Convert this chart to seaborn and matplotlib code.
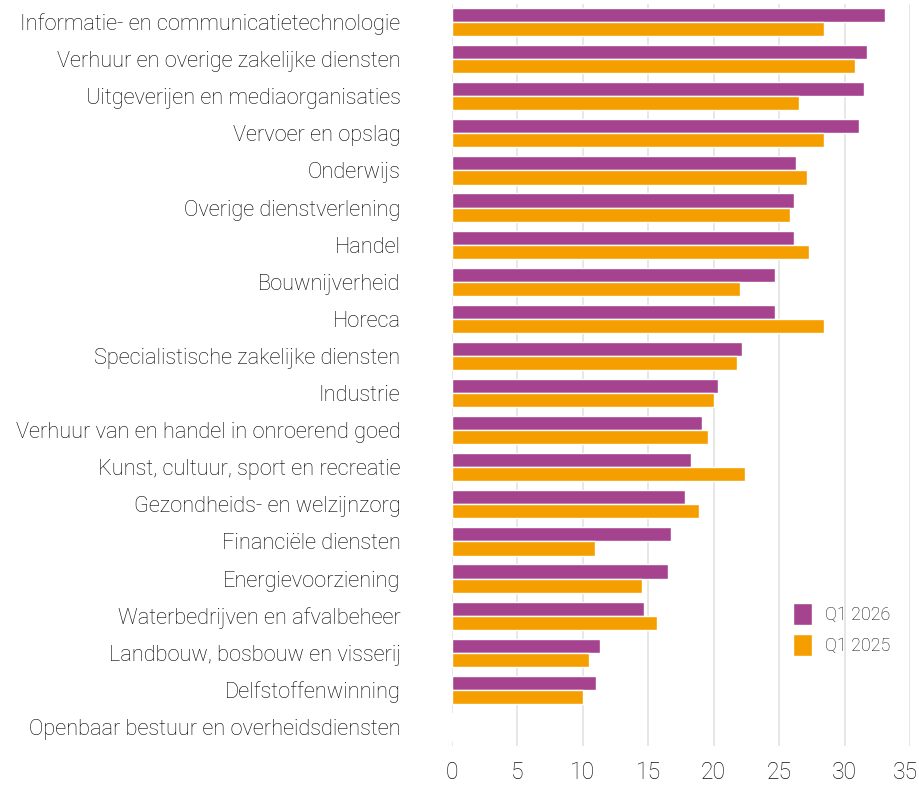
import pandas as pd
import matplotlib.pyplot as plt
import matplotlib.transforms as mtransforms
import seaborn as sns

# Sectors, top to bottom
sectors = [
    'Informatie- en communicatietechnologie',
    'Verhuur en overige zakelijke diensten',
    'Uitgeverijen en mediaorganisaties',
    'Vervoer en opslag',
    'Onderwijs',
    'Overige dienstverlening',
    'Handel',
    'Bouwnijverheid',
    'Horeca',
    'Specialistische zakelijke diensten',
    'Industrie',
    'Verhuur van en handel in onroerend goed',
    'Kunst, cultuur, sport en recreatie',
    'Gezondheids- en welzijnzorg',
    'Financiële diensten',
    'Energievoorziening',
    'Waterbedrijven en afvalbeheer',
    'Landbouw, bosbouw en visserij',
    'Delfstoffenwinning',
    'Openbaar bestuur en overheidsdiensten',
]
q1_2026 = [33.1, 31.7, 31.5, 31.1, 26.3, 26.1, 26.1, 24.7, 24.7, 22.2,
           20.3, 19.1, 18.3, 17.8, 16.7, 16.5, 14.7, 11.3, 11.0, 0.05]
q1_2025 = [28.4, 30.8, 26.5, 28.4, 27.1, 25.8, 27.3, 22.0, 28.4, 21.8,
           20.0, 19.6, 22.4, 18.9, 10.9, 14.5, 15.7, 10.5, 10.0, 0.05]
periods = ['Q1 2026', 'Q1 2025']
colors = ['#A6438F', '#F59E00']

df = pd.concat([
    pd.DataFrame({'sector': sectors, 'value': q1_2026, 'period': periods[0]}),
    pd.DataFrame({'sector': sectors, 'value': q1_2025, 'period': periods[1]}),
], ignore_index=True)

sns.set_style('white')
plt.rcParams['font.family'] = ['Roboto', 'DejaVu Sans']

fig = plt.figure(figsize=(9.19, 7.86), dpi=100)
ax = fig.add_axes([0.4918, 0.0515, 0.4984, 0.944])

sns.barplot(data=df, y='sector', x='value', hue='period', hue_order=periods,
            order=sectors, palette=colors, orient='h', width=0.76,
            saturation=1, ax=ax, zorder=2)

ax.set_xlim(0, 35)
ax.set_xticks(range(0, 36, 5))
ax.set_xlabel('')
ax.set_ylabel('')
ax.grid(axis='x', color='#e3e3e3', linewidth=1.2, zorder=0)
ax.grid(axis='y', visible=False)
ax.set_axisbelow(True)
sns.despine(ax=ax, left=True, bottom=True)

ax.tick_params(axis='y', length=0, pad=37, labelsize=15.7, labelcolor='#000000')
ax.tick_params(axis='x', length=0, pad=11, labelsize=16.5, labelcolor='#111111')
for lab in ax.get_yticklabels() + ax.get_xticklabels():
    lab.set_fontweight('light')

# last x tick label sits a bit left so it fits inside the figure
last = ax.get_xticklabels()[-1]
last.set_transform(last.get_transform() +
                   mtransforms.ScaledTranslation(-5 / 100, 0, fig.dpi_scale_trans))

leg = ax.legend(loc='upper left', bbox_to_anchor=(0.71, 0.214), frameon=False,
                fontsize=13, handlelength=1.05, handleheight=1.5,
                handletextpad=0.7, labelspacing=0.5)
for t in leg.get_texts():
    t.set_fontweight('light')
    t.set_color('#111111')

fig.savefig('out.png', dpi=100)
